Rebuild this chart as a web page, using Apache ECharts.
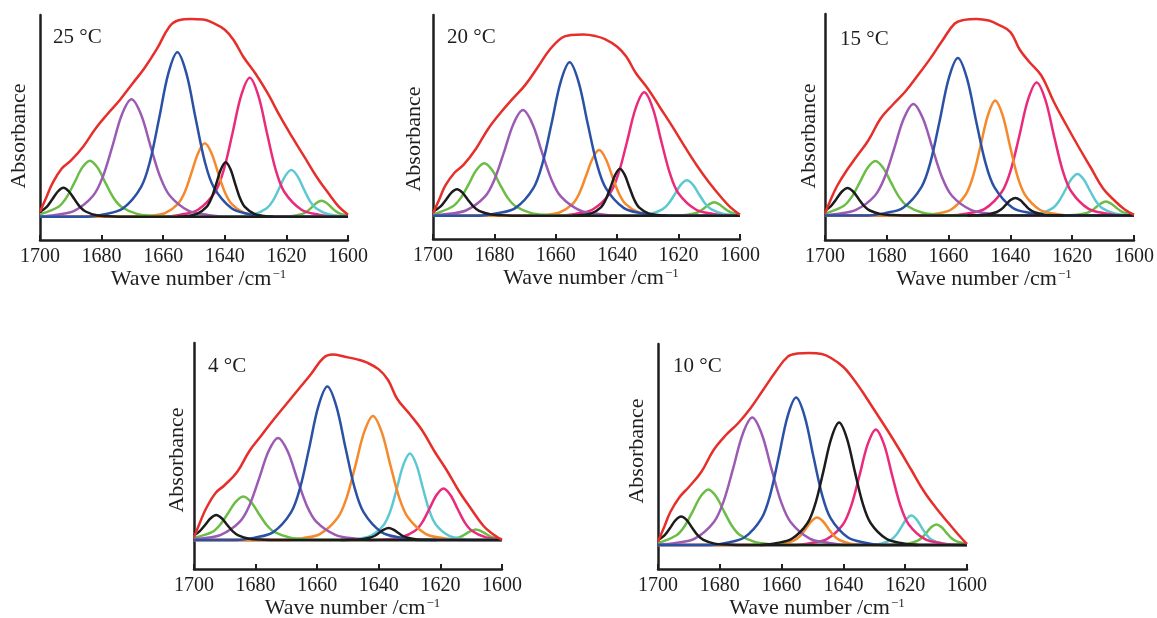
<!DOCTYPE html>
<html>
<head>
<meta charset="utf-8">
<script src="https://cdn.jsdelivr.net/npm/echarts/dist/echarts.min.js"></script>
<style>
html,body{margin:0;padding:0;background:#fff;}
#chart{width:1157px;height:618px;}
</style>
</head>
<body>
<div id="chart"></div>
<script>
// ---------- data (wave number, absorbance in arbitrary units) ----------
const panelLabels = ['25 °C', '20 °C', '15 °C', '4 °C', '10 °C'];
const xMin = 1600, xMax = 1700, xStep = 20;

// 25 °C
const d25_black1 = [[1700,2.4],[1697.8,4.9],[1696.0,8.7],[1694.2,12.6],[1692.4,14.5],[1690.6,12.6],[1688.8,8.7],[1687.0,4.9],[1685.2,2.6],[1681.6,0.7],[1678.0,0.2],[1674.4,0],[1600,0]];
const d25_green1 = [[1700,1.2],[1694.0,5.0],[1691.45,9.5],[1688.9,16.8],[1686.35,24.4],[1683.8,28],[1681.25,24.4],[1678.7,16.8],[1676.15,9.5],[1673.6,5.0],[1668.5,1.4],[1663.4,0.4],[1658.3,0],[1600,0]];
const d25_purple = [[1700,0.1],[1695.1,0.9],[1688.9,2.9],[1682.7,10.6],[1679.6,20.0],[1676.5,35.2],[1673.4,51.1],[1670.3,58.7],[1667.2,51.1],[1664.1,35.2],[1661.0,20.0],[1657.9,10.6],[1651.7,2.9],[1645.5,0.9],[1639.3,0],[1600,0]];
const d25_blue   = [[1700,0],[1684.9,0],[1679.0,1.2],[1673.1,4.1],[1667.2,14.8],[1664.25,27.9],[1661.3,49.3],[1658.35,71.5],[1655.4,82.2],[1652.45,71.5],[1649.5,49.3],[1646.55,27.9],[1643.6,14.8],[1637.7,4.1],[1631.8,1.2],[1625.9,0],[1600,0]];
const d25_orange = [[1700,0],[1668.0,0],[1663.7,0.6],[1659.4,1.8],[1655.1,6.6],[1652.95,12.5],[1650.8,22.0],[1648.65,31.9],[1646.5,36.7],[1644.35,31.9],[1642.2,22.0],[1640.05,12.5],[1637.9,6.6],[1633.6,1.8],[1629.3,0.6],[1625.0,0],[1600,0]];
const d25_black2 = [[1655.2,0],[1652.1,0.4],[1649.0,1.4],[1645.9,4.9],[1644.35,9.2],[1642.8,16.3],[1641.25,23.7],[1639.7,27.2],[1638.15,23.7],[1636.6,16.3],[1635.05,9.2],[1633.5,4.9],[1630.4,1.4],[1627.3,0.4],[1624.2,0]];
const d25_pink   = [[1700,0],[1659.9,0],[1654.3,1.0],[1648.7,3.5],[1643.1,12.5],[1640.3,23.6],[1637.5,41.7],[1634.7,60.5],[1631.9,69.5],[1629.1,60.5],[1626.3,41.7],[1623.5,23.6],[1620.7,12.5],[1615.1,3.5],[1609.5,1.0],[1603.9,0],[1600,0]];
const d25_cyan   = [[1700,0],[1638.4,0],[1634.4,0.3],[1630.4,1.2],[1626.4,4.2],[1624.4,7.9],[1622.4,14.0],[1620.4,20.3],[1618.4,23.3],[1616.4,20.3],[1614.4,14.0],[1612.4,7.9],[1610.4,4.2],[1606.4,1.2],[1602.4,0.3],[1600,0.1]];
const d25_green2 = [[1700,0],[1624.1,0],[1621.0,0.1],[1617.9,0.4],[1614.8,1.4],[1613.25,2.7],[1611.7,4.8],[1610.15,7.0],[1608.6,8],[1607.05,7.0],[1605.5,4.8],[1603.95,2.7],[1602.4,1.4],[1600,0.6]];
const d25_total  = [[1700,2.5],[1698,9.5],[1696,16.5],[1693,24],[1690,28],[1686,35],[1682,44],[1678,51.5],[1674,58.5],[1670,66.5],[1666,74.5],[1662,84],[1658,95],[1655,98.2],[1651,98.8],[1647,98.6],[1644,97],[1640,93.5],[1637,88],[1634,80],[1630,71.5],[1626,61.5],[1622,50],[1618,39.5],[1614,29.5],[1610,19.5],[1606,11],[1603,5],[1600,1]];

// 20 °C
const d20_black1 = [[1700,2.0],[1697.6,4.5],[1695.8,7.9],[1694.0,11.5],[1692.2,13.2],[1690.4,11.5],[1688.6,7.9],[1686.8,4.5],[1685.0,2.4],[1681.4,0.7],[1677.8,0.2],[1674.2,0],[1600,0]];
const d20_green1 = [[1700,1.0],[1698.6,1.3],[1693.5,4.7],[1690.95,8.9],[1688.4,15.7],[1685.85,22.8],[1683.3,26.2],[1680.75,22.8],[1678.2,15.7],[1675.65,8.9],[1673.1,4.7],[1668.0,1.3],[1662.9,0.4],[1657.8,0],[1600,0]];
const d20_purple = [[1700,0.1],[1695.5,0.8],[1689.3,2.6],[1683.1,9.5],[1680.0,18.0],[1676.9,31.7],[1673.8,45.9],[1670.7,52.8],[1667.6,45.9],[1664.5,31.7],[1661.4,18.0],[1658.3,9.5],[1652.1,2.6],[1645.9,0.8],[1639.7,0],[1600,0]];
const d20_blue   = [[1700,0],[1685.0,0],[1679.1,1.2],[1673.2,3.8],[1667.3,13.8],[1664.35,26.1],[1661.4,46.0],[1658.45,66.7],[1655.5,76.7],[1652.55,66.7],[1649.6,46.0],[1646.65,26.1],[1643.7,13.8],[1637.8,3.8],[1631.9,1.2],[1626.0,0],[1600,0]];
const d20_orange = [[1700,0],[1667.4,0],[1663.1,0.5],[1658.8,1.6],[1654.5,5.9],[1652.35,11.2],[1650.2,19.7],[1648.05,28.5],[1645.9,32.8],[1643.75,28.5],[1641.6,19.7],[1639.45,11.2],[1637.3,5.9],[1633.0,1.6],[1628.7,0.5],[1624.4,0],[1600,0]];
const d20_black2 = [[1654.6,0],[1651.5,0.4],[1648.4,1.2],[1645.3,4.2],[1643.75,8.0],[1642.2,14.1],[1640.65,20.4],[1639.1,23.5],[1637.55,20.4],[1636.0,14.1],[1634.45,8.0],[1632.9,4.2],[1629.8,1.2],[1626.7,0.4],[1623.6,0]];
const d20_pink   = [[1700,0],[1659.2,0],[1653.6,0.9],[1648.0,3.1],[1642.4,11.1],[1639.6,21.0],[1636.8,37.0],[1634.0,53.7],[1631.2,61.7],[1628.4,53.7],[1625.6,37.0],[1622.8,21.0],[1620.0,11.1],[1614.4,3.1],[1608.8,0.9],[1603.2,0],[1600,0]];
const d20_cyan   = [[1700,0],[1637.3,0],[1633.3,0.3],[1629.3,0.9],[1625.3,3.2],[1623.3,6.0],[1621.3,10.6],[1619.3,15.4],[1617.3,17.7],[1615.3,15.4],[1613.3,10.6],[1611.3,6.0],[1609.3,3.2],[1605.3,0.9],[1601.3,0.3],[1600,0.2]];
const d20_green2 = [[1700,0],[1623.9,0],[1620.8,0.1],[1617.7,0.3],[1614.6,1.2],[1613.05,2.3],[1611.5,4.0],[1609.95,5.8],[1608.4,6.7],[1606.85,5.8],[1605.3,4.0],[1603.75,2.3],[1602.2,1.2],[1600,0.6]];
const d20_total  = [[1700,1.2],[1698,8],[1696,15],[1693,21.5],[1690,25.5],[1686,33.5],[1682,43.5],[1678,51.5],[1674,58.5],[1670,65.3],[1666,74],[1662,83],[1658,89],[1655,90.3],[1651,90.6],[1647,89.8],[1644,88.3],[1640,84.5],[1637,79.5],[1634,71.5],[1630,63.5],[1626,54],[1622,44.5],[1618,34.5],[1614,25],[1610,16.5],[1606,9],[1603,4],[1600,0.5]];

// 15 °C
const d15_black1 = [[1700,2.4],[1698.1,4.7],[1696.3,8.3],[1694.5,12.0],[1692.7,13.8],[1690.9,12.0],[1689.1,8.3],[1687.3,4.7],[1685.5,2.5],[1681.9,0.7],[1678.3,0.2],[1674.7,0],[1600,0]];
const d15_green1 = [[1700,1.2],[1699.0,1.4],[1693.9,4.9],[1691.35,9.3],[1688.8,16.4],[1686.25,23.8],[1683.7,27.3],[1681.15,23.8],[1678.6,16.4],[1676.05,9.3],[1673.5,4.9],[1668.4,1.4],[1663.3,0.4],[1658.2,0],[1600,0]];
const d15_purple = [[1700,0.2],[1696.2,0.8],[1690.0,2.8],[1683.8,10.0],[1680.7,19.0],[1677.6,33.5],[1674.5,48.5],[1671.4,55.8],[1668.3,48.5],[1665.2,33.5],[1662.1,19.0],[1659.0,10.0],[1652.8,2.8],[1646.6,0.8],[1640.4,0],[1600,0]];
const d15_blue   = [[1700,0],[1686.5,0],[1680.6,1.2],[1674.7,3.9],[1668.8,14.2],[1665.85,26.8],[1662.9,47.3],[1659.95,68.6],[1657.0,78.8],[1654.05,68.6],[1651.1,47.3],[1648.15,26.8],[1645.2,14.2],[1639.3,3.9],[1633.4,1.2],[1627.5,0],[1600,0]];
const d15_orange = [[1700,0],[1668.9,0],[1664.1,0.9],[1659.3,2.9],[1654.5,10.4],[1652.1,19.6],[1649.7,34.5],[1647.3,50.0],[1644.9,57.5],[1642.5,50.0],[1640.1,34.5],[1637.7,19.6],[1635.3,10.4],[1630.5,2.9],[1625.7,0.9],[1620.9,0],[1600,0]];
const d15_black2 = [[1653.9,0],[1650.8,0.1],[1647.7,0.4],[1644.6,1.6],[1643.05,3.0],[1641.5,5.3],[1639.95,7.7],[1638.4,8.8],[1636.85,7.7],[1635.3,5.3],[1633.75,3.0],[1632.2,1.6],[1629.1,0.4],[1626.0,0.1],[1622.9,0]];
const d15_pink   = [[1700,0],[1659.5,0],[1653.9,1.0],[1648.3,3.3],[1642.7,12.0],[1639.9,22.6],[1637.1,39.9],[1634.3,57.9],[1631.5,66.5],[1628.7,57.9],[1625.9,39.9],[1623.1,22.6],[1620.3,12.0],[1614.7,3.3],[1609.1,1.0],[1603.5,0],[1600,0]];
const d15_cyan   = [[1700,0],[1638.3,0],[1634.3,0.3],[1630.3,1.0],[1626.3,3.7],[1624.3,7.1],[1622.3,12.5],[1620.3,18.1],[1618.3,20.8],[1616.3,18.1],[1614.3,12.5],[1612.3,7.1],[1610.3,3.7],[1606.3,1.0],[1602.3,0.3],[1600,0.1]];
const d15_green2 = [[1700,0],[1624.6,0],[1621.5,0.1],[1618.4,0.4],[1615.3,1.3],[1613.75,2.4],[1612.2,4.2],[1610.65,6.1],[1609.1,7.0],[1607.55,6.1],[1606.0,4.2],[1604.45,2.4],[1602.9,1.3],[1600,0.4]];
const d15_total  = [[1700,1],[1698,8.5],[1696,15],[1693,22.5],[1690,29],[1686,37.5],[1682,48.5],[1678,55.5],[1674,62],[1670,70],[1666,78.3],[1662,87.5],[1658,96],[1655,97.8],[1651,98.3],[1647,97.5],[1644,95.5],[1640,91.7],[1637,83],[1634,77],[1630,70],[1626,57],[1622,45.5],[1618,34.5],[1614,24],[1610,13.5],[1606,7],[1603,3],[1600,0.3]];

// 4 °C
const d4_black1 = [[1700,2.3],[1698.2,4.3],[1696.4,7.5],[1694.6,10.9],[1692.8,12.5],[1691.0,10.9],[1689.2,7.5],[1687.4,4.3],[1685.6,2.3],[1682.0,0.6],[1678.4,0.2],[1674.8,0],[1600,0]];
const d4_green1 = [[1700,1.0],[1694.2,3.9],[1691.65,7.4],[1689.1,13.0],[1686.55,18.9],[1684.0,21.7],[1681.45,18.9],[1678.9,13.0],[1676.35,7.4],[1673.8,3.9],[1668.7,1.1],[1663.6,0.3],[1658.5,0],[1600,0]];
const d4_purple = [[1700,0.5],[1697.5,0.8],[1691.3,2.6],[1685.1,9.2],[1682.0,17.3],[1678.9,30.6],[1675.8,44.4],[1672.7,51.0],[1669.6,44.4],[1666.5,30.6],[1663.4,17.3],[1660.3,9.2],[1654.1,2.6],[1647.9,0.8],[1641.7,0],[1600,0]];
const d4_blue   = [[1700,0],[1686.2,0],[1680.3,1.2],[1674.4,3.8],[1668.5,13.8],[1665.55,26.1],[1662.6,46.0],[1659.65,66.7],[1656.7,76.7],[1653.75,66.7],[1650.8,46.0],[1647.85,26.1],[1644.9,13.8],[1639.0,3.8],[1633.1,1.2],[1627.2,0],[1600,0]];
const d4_orange = [[1700,0],[1670.4,0],[1664.7,0.9],[1659.0,3.1],[1653.3,11.2],[1650.45,21.1],[1647.6,37.2],[1644.75,53.9],[1641.9,62.0],[1639.05,53.9],[1636.2,37.2],[1633.35,21.1],[1630.5,11.2],[1624.8,3.1],[1619.1,0.9],[1613.4,0],[1600,0]];
const d4_black2 = [[1652.3,0],[1649.2,0.1],[1646.1,0.3],[1643.0,1.1],[1641.45,2.0],[1639.9,3.6],[1638.35,5.2],[1636.8,6.0],[1635.25,5.2],[1633.7,3.6],[1632.15,2.0],[1630.6,1.1],[1627.5,0.3],[1624.4,0.1],[1621.3,0]];
const d4_cyan   = [[1700,0],[1650.9,0],[1646.7,0.6],[1642.5,2.2],[1638.3,7.8],[1636.2,14.7],[1634.1,26.0],[1632.0,37.7],[1629.9,43.3],[1627.8,37.7],[1625.7,26.0],[1623.6,14.7],[1621.5,7.8],[1617.3,2.2],[1613.1,0.6],[1608.9,0],[1600,0]];
const d4_pink   = [[1700,0],[1642.0,0],[1637.4,0.4],[1632.8,1.3],[1628.2,4.6],[1625.9,8.8],[1623.6,15.5],[1621.3,22.4],[1619.0,25.8],[1616.7,22.4],[1614.4,15.5],[1612.1,8.8],[1609.8,4.6],[1605.2,1.3],[1600,0.4]];
const d4_green2 = [[1700,0],[1624.0,0],[1620.9,0.1],[1617.8,0.3],[1614.7,1.0],[1613.15,1.8],[1611.6,3.2],[1610.05,4.6],[1608.5,5.3],[1606.95,4.6],[1605.4,3.2],[1603.85,1.8],[1602.3,1.0],[1600,0.4]];
const d4_total  = [[1700,1.3],[1698,9],[1696,16],[1693,23.5],[1690,27.5],[1686,34],[1682,44.5],[1678,52.5],[1674,60.5],[1670,68],[1666,75.5],[1662,83],[1658,91],[1655,92.7],[1651,91.6],[1647,90.3],[1644,88.8],[1640,85.3],[1637,80],[1634,70.5],[1630,63],[1626,55],[1622,44.5],[1618,35],[1614,24.5],[1610,15.5],[1606,7],[1603,3],[1600,0]];

// 10 °C
const d10_black1 = [[1700,2.4],[1697.9,4.8],[1696.1,8.5],[1694.3,12.4],[1692.5,14.2],[1690.7,12.4],[1688.9,8.5],[1687.1,4.8],[1685.3,2.6],[1681.7,0.7],[1678.1,0.2],[1674.5,0],[1600,0]];
const d10_green1 = [[1700,1.2],[1699.0,1.4],[1693.9,5.0],[1691.35,9.5],[1688.8,16.7],[1686.25,24.2],[1683.7,27.8],[1681.15,24.2],[1678.6,16.7],[1676.05,9.5],[1673.5,5.0],[1668.4,1.4],[1663.3,0.4],[1658.2,0],[1600,0]];
const d10_purple = [[1700,0.1],[1694.3,1.0],[1688.1,3.2],[1681.9,11.5],[1678.8,21.7],[1675.7,38.2],[1672.6,55.4],[1669.5,63.7],[1666.4,55.4],[1663.3,38.2],[1660.2,21.7],[1657.1,11.5],[1650.9,3.2],[1644.7,1.0],[1638.5,0],[1600,0]];
const d10_blue   = [[1700,0],[1683.3,0],[1677.7,1.1],[1672.1,3.7],[1666.5,13.3],[1663.7,25.1],[1660.9,44.2],[1658.1,64.1],[1655.3,73.7],[1652.5,64.1],[1649.7,44.2],[1646.9,25.1],[1644.1,13.3],[1638.5,3.7],[1632.9,1.1],[1627.3,0],[1600,0]];
const d10_orange = [[1700,0],[1666.5,0],[1662.9,0.2],[1659.3,0.7],[1655.7,2.5],[1653.9,4.7],[1652.1,8.3],[1650.3,12.0],[1648.5,13.8],[1646.7,12.0],[1644.9,8.3],[1643.1,4.7],[1641.3,2.5],[1637.7,0.7],[1634.1,0.2],[1630.5,0],[1600,0]];
const d10_black2 = [[1666.9,0],[1661.8,0.9],[1656.7,3.1],[1651.6,11.0],[1649.05,20.8],[1646.5,36.7],[1643.95,53.2],[1641.4,61.2],[1638.85,53.2],[1636.3,36.7],[1633.75,20.8],[1631.2,11.0],[1626.1,3.1],[1621.0,0.9],[1615.9,0]];
const d10_pink   = [[1700,0],[1656.0,0],[1650.7,0.9],[1645.4,2.9],[1640.1,10.4],[1637.45,19.7],[1634.8,34.7],[1632.15,50.3],[1629.5,57.8],[1626.85,50.3],[1624.2,34.7],[1621.55,19.7],[1618.9,10.4],[1613.6,2.9],[1608.3,0.9],[1603.0,0],[1600,0]];
const d10_cyan   = [[1700,0],[1634.5,0],[1631.2,0.2],[1627.9,0.7],[1624.6,2.6],[1622.95,5.0],[1621.3,8.8],[1619.65,12.8],[1618.0,14.7],[1616.35,12.8],[1614.7,8.8],[1613.05,5.0],[1611.4,2.6],[1608.1,0.7],[1604.8,0.2],[1601.5,0],[1600,0]];
const d10_green2 = [[1700,0],[1625.9,0],[1622.7,0.2],[1619.5,0.5],[1616.3,1.9],[1614.7,3.5],[1613.1,6.2],[1611.5,9.0],[1609.9,10.3],[1608.3,9.0],[1606.7,6.2],[1605.1,3.5],[1603.5,1.9],[1600,0.5]];
const d10_total  = [[1700,1.7],[1698,9],[1696,16.5],[1693,24],[1690,29],[1686,36.5],[1682,47.5],[1678,55],[1674,61],[1670,68.5],[1666,77.5],[1662,86.5],[1658,94.2],[1655,95.7],[1651,96],[1647,95.5],[1644,93.5],[1640,89],[1637,83.5],[1634,77],[1630,67.5],[1626,58],[1622,48],[1618,37.5],[1614,27],[1610,18.5],[1606,11],[1603,5.5],[1600,0.5]];

// ---------- layout / style ----------
const panelCurves = [
  {green2:d25_green2, cyan:d25_cyan, pink:d25_pink, orange:d25_orange, green1:d25_green1, purple:d25_purple, blue:d25_blue, black1:d25_black1, black2:d25_black2, total:d25_total},
  {green2:d20_green2, cyan:d20_cyan, pink:d20_pink, orange:d20_orange, green1:d20_green1, purple:d20_purple, blue:d20_blue, black1:d20_black1, black2:d20_black2, total:d20_total},
  {green2:d15_green2, cyan:d15_cyan, pink:d15_pink, orange:d15_orange, green1:d15_green1, purple:d15_purple, blue:d15_blue, black1:d15_black1, black2:d15_black2, total:d15_total},
  {green2:d4_green2, cyan:d4_cyan, pink:d4_pink, orange:d4_orange, green1:d4_green1, purple:d4_purple, blue:d4_blue, black1:d4_black1, black2:d4_black2, total:d4_total},
  {green2:d10_green2, cyan:d10_cyan, pink:d10_pink, orange:d10_orange, green1:d10_green1, purple:d10_purple, blue:d10_blue, black1:d10_black1, black2:d10_black2, total:d10_total}
];
const drawOrder = ['green2','cyan','pink','orange','green1','purple','blue','black1','black2','total'];
const colorOf = {
  black1:'#1c1c1c', black2:'#1c1c1c', green1:'#6cbd45', green2:'#6cbd45',
  purple:'#9c5bb3', blue:'#2a51a5', orange:'#f5892b', pink:'#ea2b7b',
  cyan:'#5ec8d2', total:'#e62e2a'
};
const gridBoxes = [
  {left:40,  top:15,  width:308, height:225},
  {left:433, top:15,  width:307, height:224},
  {left:825, top:14,  width:309, height:226},
  {left:194, top:343, width:308, height:226},
  {left:658, top:344, width:309, height:225}
];
const yRanges = [[-11.65,100.85],[-11.65,100.35],[-12.25,100.75],[-14.5,98.5],[-12,100.5]];
const tempPos = [[53,37],[447,37.5],[840,39.5],[208,366.5],[673,366.5]];
const absPos = [[19.5,136],[414,139],[809,136],[177.5,460],[637.5,451]];

const FONT = '"Liberation Serif", "Times New Roman", serif';
const AX = '#1e1e1e';

const grid = [], xAxis = [], yAxis = [], series = [], graphic = [];
gridBoxes.forEach((g, i) => {
  grid.push(Object.assign({containLabel:false, outerBoundsMode:'none'}, g));
  xAxis.push({
    type:'value', gridIndex:i, min:xMin, max:xMax, interval:xStep, inverse:true,
    axisLine:{show:true, onZero:false, lineStyle:{color:AX, width:2.5}},
    axisTick:{show:true, inside:true, length:5, lineStyle:{color:AX, width:2}},
    axisLabel:{show:true, margin:7, color:AX, fontFamily:FONT, fontSize:20, formatter:v => String(v)},
    splitLine:{show:false},
    name:'Wave number /cm{sup|−1}', nameLocation:'middle', nameGap:28,
    nameTextStyle:{color:AX, fontFamily:FONT, fontSize:22, padding:[0,0,0,9],
      rich:{sup:{fontSize:13, fontFamily:FONT, color:AX, verticalAlign:'top', padding:[0,0,9,1]}}}
  });
  yAxis.push({
    type:'value', gridIndex:i, min:yRanges[i][0], max:yRanges[i][1],
    axisLine:{show:true, onZero:false, lineStyle:{color:AX, width:2.5}},
    axisTick:{show:false}, axisLabel:{show:false}, splitLine:{show:false}
  });
  drawOrder.forEach(k => {
    series.push({
      type:'line', xAxisIndex:i, yAxisIndex:i, data:panelCurves[i][k],
      smooth: k === 'total' ? 0.4 : 0.33, showSymbol:false, symbol:'none', silent:true, animation:false,
      lineStyle:{color:colorOf[k], width:2.5}, z: k==='total' ? 3 : 2
    });
  });
  graphic.push({type:'text', x:tempPos[i][0], y:tempPos[i][1], silent:true,
    style:{text:panelLabels[i], font:'21px ' + FONT, fill:AX, align:'left', verticalAlign:'middle'}});
  graphic.push({type:'text', x:absPos[i][0], y:absPos[i][1], rotation:Math.PI/2, silent:true,
    style:{text:'Absorbance', font:'22px ' + FONT, fill:AX, align:'center', verticalAlign:'middle'}});
});

const chart = echarts.init(document.getElementById('chart'), null, {renderer:'canvas'});
chart.setOption({animation:false, backgroundColor:'#ffffff', grid, xAxis, yAxis, series, graphic});
</script>
</body>
</html>
